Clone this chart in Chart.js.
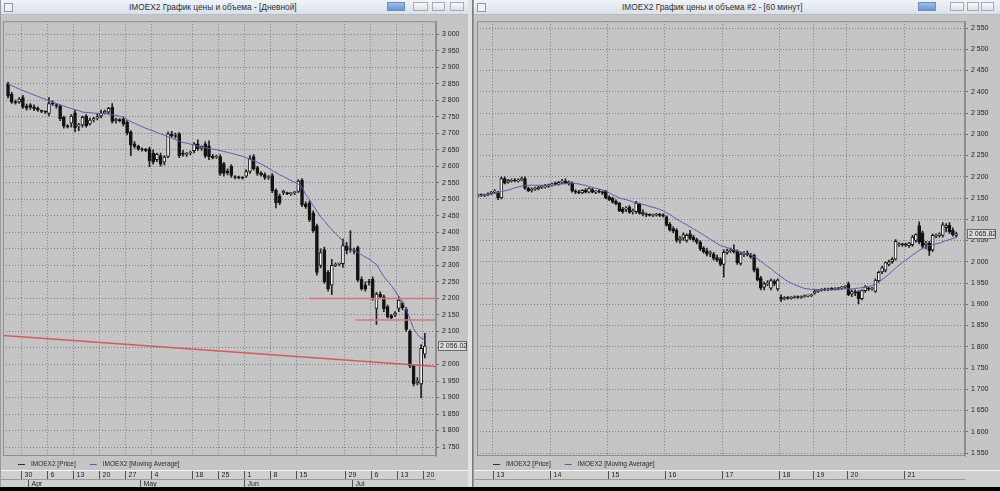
<!DOCTYPE html>
<html>
<head>
<meta charset="utf-8">
<script src="https://cdn.jsdelivr.net/npm/chart.js@4.4.1/dist/chart.umd.min.js"></script>
<style>
  html, body { margin: 0; padding: 0; width: 1000px; height: 491px; overflow: hidden; background: #101010; font-family: "Liberation Sans", Arial, sans-serif; }
  .win { position: absolute; top: 0; height: 487px; background: #c5c5c5; overflow: hidden; }
  #w1 { left: 0; width: 468px; border-left: 1px solid #9a9a9a; box-sizing: border-box; }
  #w2 { left: 473px; width: 527px; border-left: 1px solid #9a9a9a; box-sizing: border-box; }
  .gap { position: absolute; left: 468px; top: 0; width: 5px; height: 487px; background: #e2e2e2; border-right: 1px solid #7c7c7c; box-sizing: border-box; }
  .title { position: absolute; left: 0; right: 0; top: 0; height: 14px; background: linear-gradient(#f1f4f8, #d9e0e8); border-bottom: 1px solid #b4bcc6; }
  .title .txt { position: absolute; top: 0; font-size: 8.3px; line-height: 14px; color: #303030; white-space: nowrap; }
  .title .ico { position: absolute; left: 3px; top: 3px; width: 7px; height: 7px; border: 1px solid #8a97a8; background: #eef1f5; }
  .btn { position: absolute; top: 2px; height: 9px; border: 1px solid #a3adb9; background: linear-gradient(#f8f9fb, #dde2e8); box-sizing: border-box; }
  .btn.pin { background: linear-gradient(#9cbcec, #6f98d8); border-color: #6a8cc0; }
  canvas { position: absolute; left: 0; top: 14px; }
  .bottom { position: absolute; left: 0; top: 487px; width: 1000px; height: 4px; background: #000; }
</style>
</head>
<body>
<div id="w1" class="win">
  <div class="title">
    <div class="ico"></div>
    <div class="txt" style="left:128px">IMOEX2 График цены и объема - [Дневной]</div>
    <div class="btn pin" style="left:386px;width:18px"></div>
    <div class="btn" style="left:412px;width:15px"></div>
    <div class="btn" style="left:431px;width:13px"></div>
    <div class="btn" style="left:449px;width:14px"></div>
  </div>
  <canvas id="c1" width="467" height="473"></canvas>
</div>
<div class="gap"></div>
<div id="w2" class="win">
  <div class="title">
    <div class="ico"></div>
    <div class="txt" style="left:148px">IMOEX2 График цены и объема #2 - [60 минут]</div>
    <div class="btn pin" style="left:444px;width:18px"></div>
    <div class="btn" style="left:476px;width:14px"></div>
    <div class="btn" style="left:493px;width:12px"></div>
    <div class="btn" style="left:507px;width:13px"></div>
  </div>
  <canvas id="c2" width="526" height="473"></canvas>
</div>
<div class="bottom"></div>

<script>
// ---- daily chart (left) ----
const dayOpen = [
  2848, 2818, 2796, 2795, 2808, 2782, 2786, 2780, 2776, 2768, 2765, 2760, 2792, 2786, 2782, 2748, 2722, 2730, 2762, 2722,
  2725, 2752, 2728, 2740, 2746, 2752, 2762, 2764, 2778, 2738, 2740, 2743, 2734, 2704, 2668, 2660, 2652, 2650, 2653, 2640,
  2620, 2632, 2612, 2630, 2698, 2692, 2698, 2640, 2636, 2640, 2647, 2668, 2655, 2668, 2662, 2630, 2628, 2629, 2608, 2586,
  2600, 2568, 2566, 2565, 2570, 2584, 2629, 2596, 2580, 2575, 2566, 2572, 2528, 2510, 2520, 2519, 2517, 2519, 2524, 2558,
  2486, 2489, 2459, 2420, 2300, 2348, 2279, 2240, 2300, 2303, 2305, 2360, 2350, 2345, 2354, 2258, 2240, 2250, 2258, 2170,
  2213, 2205, 2175, 2148, 2150, 2170, 2185, 2166, 2100, 1995, 1945, 1941, 2031
];
const dayHigh = [
  2855, 2824, 2800, 2808, 2815, 2788, 2790, 2786, 2780, 2770, 2768, 2808, 2798, 2790, 2786, 2752, 2726, 2756, 2770, 2730,
  2752, 2756, 2746, 2748, 2760, 2770, 2770, 2778, 2790, 2746, 2744, 2748, 2738, 2708, 2675, 2664, 2656, 2654, 2658, 2650,
  2640, 2640, 2632, 2704, 2706, 2700, 2702, 2648, 2642, 2646, 2672, 2680, 2662, 2674, 2677, 2636, 2634, 2635, 2612, 2592,
  2605, 2572, 2570, 2569, 2590, 2632, 2635, 2600, 2584, 2580, 2572, 2578, 2532, 2516, 2528, 2522, 2520, 2524, 2560, 2563,
  2492, 2495, 2465, 2425, 2350, 2355, 2285, 2318, 2308, 2308, 2380, 2370, 2405, 2352, 2358, 2265, 2250, 2258, 2265, 2218,
  2220, 2210, 2180, 2152, 2160, 2205, 2190, 2172, 2105, 2000, 1960, 2060, 2094
];
const dayLow = [
  2806, 2790, 2788, 2790, 2775, 2770, 2772, 2768, 2766, 2762, 2760, 2752, 2784, 2776, 2738, 2715, 2716, 2718, 2705, 2708,
  2718, 2718, 2724, 2734, 2740, 2746, 2758, 2758, 2730, 2730, 2734, 2722, 2695, 2632, 2655, 2648, 2646, 2644, 2599, 2606,
  2614, 2600, 2604, 2626, 2688, 2685, 2626, 2630, 2630, 2634, 2640, 2648, 2648, 2626, 2620, 2622, 2624, 2572, 2570, 2574,
  2566, 2562, 2562, 2561, 2566, 2578, 2588, 2572, 2570, 2560, 2560, 2520, 2474, 2484, 2514, 2514, 2512, 2514, 2520, 2478,
  2472, 2432, 2400, 2270, 2292, 2245, 2222, 2211, 2296, 2298, 2294, 2335, 2340, 2335, 2250, 2225, 2222, 2240, 2195, 2121,
  2200, 2160, 2140, 2138, 2145, 2160, 2165, 2100, 1990, 1935, 1938, 1899, 2020
];
const dayClose = [
  2812, 2794, 2792, 2803, 2779, 2776, 2778, 2774, 2770, 2766, 2764, 2790, 2788, 2782, 2744, 2722, 2719, 2752, 2716, 2725,
  2748, 2722, 2740, 2744, 2750, 2760, 2766, 2775, 2736, 2742, 2738, 2728, 2700, 2664, 2660, 2652, 2650, 2648, 2617, 2612,
  2636, 2606, 2628, 2698, 2692, 2690, 2632, 2636, 2638, 2642, 2668, 2653, 2660, 2632, 2629, 2626, 2630, 2578, 2578, 2580,
  2572, 2566, 2565, 2564, 2584, 2623, 2593, 2578, 2574, 2566, 2568, 2525, 2489, 2490, 2524, 2517, 2519, 2521, 2555, 2483,
  2478, 2438, 2405, 2279, 2339, 2250, 2229, 2300, 2303, 2305, 2360, 2345, 2348, 2342, 2255, 2229, 2228, 2248, 2199, 2213,
  2205, 2169, 2145, 2142, 2155, 2195, 2172, 2106, 1995, 1941, 1950, 2049, 2056
];
const dayMA = [
  2849, 2844, 2839, 2834, 2829, 2825, 2820, 2816, 2811, 2807, 2803, 2798, 2794, 2790, 2786, 2782, 2778, 2775, 2771, 2768,
  2764, 2763, 2762, 2761, 2760, 2760, 2759, 2758, 2756, 2754, 2751, 2749, 2741, 2735, 2730, 2725, 2720, 2715, 2711, 2707,
  2702, 2698, 2694, 2689, 2685, 2680, 2676, 2672, 2670, 2667, 2664, 2661, 2659, 2656, 2654, 2652, 2650, 2647, 2645, 2642,
  2639, 2636, 2633, 2630, 2626, 2621, 2617, 2612, 2607, 2601, 2594, 2587, 2581, 2574, 2569, 2563, 2557, 2552, 2546, 2537,
  2514, 2499, 2481, 2464, 2447, 2435, 2421, 2408, 2396, 2386, 2372, 2360, 2352, 2346, 2339, 2332, 2325, 2319, 2311, 2303,
  2284, 2266, 2252, 2239, 2222, 2206, 2188, 2167, 2137, 2108, 2091, 2080, 2076
];
// first candle of each week / month and their labels
const dayWeekIdx = [4, 11, 18, 25, 32, 39, 50, 57, 64, 71, 78, 91, 98, 105, 112];
const dayWeekText = ['30', '6', '13', '20', '27', '4', '18', '25', '1', '8', '15', '29', '6', '13', '20'];
const dayMonthIdx = [6, 36, 64, 93];
const dayMonthText = ['Apr', 'May', 'Jun', 'Jul'];
// drawn levels on the daily chart
const dayLevels = [2200, 2135];
const dayLevelFrom = [81, 93.5];
const dayTrendX = [-1.35, 115];
const dayTrendY = [2088, 1994];

// ---- hourly chart (right) ----
const hourOpen = [
  2155, 2157, 2156, 2157, 2160, 2164, 2162, 2150, 2196, 2187, 2190, 2192, 2190, 2193, 2196, 2173, 2168, 2170, 2172, 2175,
  2176, 2178, 2181, 2183, 2182, 2187, 2189, 2185, 2185, 2166, 2164, 2162, 2168, 2164, 2170, 2164, 2166, 2164, 2166, 2152,
  2150, 2142, 2138, 2124, 2124, 2128, 2118, 2118, 2136, 2116, 2112, 2110, 2109, 2110, 2111, 2109, 2106, 2088, 2078, 2074,
  2052, 2056, 2050, 2066, 2058, 2052, 2046, 2032, 2026, 2020, 2018, 2010, 2006, 1994, 2022, 2026, 2028, 2024, 1996, 2018,
  2020, 2016, 2015, 1983, 1962, 1940, 1948, 1938, 1954, 1936, 1917, 1912, 1915, 1914, 1916, 1917, 1916, 1918, 1919, 1920,
  1926, 1930, 1933, 1935, 1934, 1936, 1935, 1937, 1938, 1940, 1948, 1924, 1930, 1929, 1913, 1932, 1936, 1936, 1930, 1955,
  1976, 1980, 1994, 2000, 2006, 2040, 2041, 2040, 2038, 2040, 2050, 2085, 2068, 2040, 2044, 2028, 2060, 2062, 2062, 2080,
  2086, 2074, 2062
];
const hourHigh = [
  2160, 2160, 2159, 2162, 2166, 2170, 2166, 2200, 2200, 2194, 2195, 2196, 2195, 2199, 2200, 2176, 2174, 2176, 2178, 2180,
  2182, 2183, 2186, 2188, 2189, 2194, 2195, 2190, 2188, 2170, 2168, 2170, 2172, 2174, 2173, 2168, 2170, 2167, 2168, 2156,
  2152, 2146, 2140, 2128, 2130, 2132, 2124, 2142, 2138, 2122, 2115, 2113, 2113, 2114, 2114, 2113, 2108, 2092, 2082, 2078,
  2060, 2068, 2066, 2074, 2062, 2056, 2050, 2036, 2032, 2026, 2022, 2016, 2010, 2028, 2030, 2032, 2040, 2028, 2022, 2024,
  2026, 2020, 2018, 1986, 1966, 1952, 1956, 1960, 1958, 1960, 1922, 1918, 1918, 1918, 1920, 1920, 1920, 1922, 1922, 1924,
  1934, 1935, 1937, 1938, 1938, 1939, 1939, 1940, 1942, 1944, 1952, 1934, 1934, 1932, 1934, 1944, 1940, 1940, 1960, 1978,
  1990, 2000, 2004, 2010, 2052, 2045, 2044, 2044, 2046, 2062, 2066, 2094, 2072, 2048, 2048, 2066, 2066, 2068, 2092, 2090,
  2092, 2080, 2070
];
const hourLow = [
  2152, 2154, 2153, 2155, 2158, 2160, 2146, 2148, 2183, 2185, 2187, 2188, 2187, 2190, 2170, 2165, 2164, 2168, 2169, 2172,
  2173, 2175, 2178, 2180, 2180, 2184, 2183, 2180, 2164, 2160, 2160, 2160, 2162, 2162, 2162, 2160, 2162, 2158, 2148, 2144,
  2138, 2134, 2118, 2114, 2118, 2114, 2112, 2114, 2112, 2108, 2106, 2107, 2106, 2107, 2106, 2105, 2084, 2072, 2068, 2046,
  2044, 2050, 2046, 2052, 2048, 2042, 2026, 2020, 2014, 2012, 2004, 2000, 1990, 1964, 2018, 2022, 2020, 1994, 1992, 2012,
  2014, 2008, 1976, 1955, 1934, 1934, 1944, 1934, 1944, 1932, 1906, 1910, 1912, 1912, 1914, 1914, 1914, 1916, 1917, 1918,
  1924, 1928, 1931, 1932, 1932, 1933, 1933, 1934, 1935, 1937, 1920, 1918, 1920, 1901, 1910, 1928, 1932, 1933, 1928, 1952,
  1972, 1976, 1990, 1996, 2004, 2036, 2036, 2036, 2034, 2036, 2046, 2042, 2032, 2030, 2015, 2024, 2056, 2058, 2058, 2070,
  2066, 2060, 2058
];
const hourClose = [
  2157, 2156, 2157, 2160, 2164, 2166, 2150, 2196, 2185, 2192, 2192, 2190, 2193, 2196, 2173, 2167, 2170, 2173, 2175, 2176,
  2179, 2181, 2183, 2182, 2187, 2190, 2185, 2188, 2166, 2164, 2162, 2168, 2164, 2172, 2164, 2166, 2164, 2162, 2150, 2146,
  2140, 2136, 2120, 2118, 2126, 2116, 2120, 2138, 2114, 2112, 2110, 2109, 2110, 2111, 2109, 2108, 2086, 2075, 2072, 2050,
  2056, 2064, 2062, 2055, 2052, 2046, 2030, 2024, 2018, 2022, 2008, 2004, 1994, 2022, 2026, 2028, 2024, 1998, 2018, 2020,
  2016, 2012, 1980, 1958, 1938, 1948, 1950, 1956, 1948, 1957, 1912, 1915, 1914, 1916, 1917, 1916, 1918, 1919, 1920, 1922,
  1931, 1933, 1935, 1934, 1936, 1935, 1937, 1938, 1940, 1941, 1922, 1930, 1926, 1913, 1932, 1941, 1936, 1937, 1957, 1975,
  1986, 1998, 2000, 2006, 2048, 2041, 2040, 2039, 2044, 2058, 2064, 2046, 2036, 2044, 2026, 2062, 2062, 2066, 2087, 2085,
  2070, 2064, 2066
];
const hourMA = [
  2155, 2156, 2157, 2158, 2159, 2161, 2163, 2165, 2167, 2169, 2171, 2174, 2176, 2178, 2180, 2180, 2180, 2180, 2180, 2180,
  2180, 2180, 2180, 2181, 2182, 2183, 2184, 2185, 2185, 2184, 2183, 2181, 2180, 2177, 2175, 2173, 2171, 2169, 2166, 2162,
  2158, 2154, 2150, 2148, 2146, 2144, 2141, 2139, 2137, 2135, 2133, 2130, 2128, 2126, 2123, 2120, 2115, 2111, 2106, 2101,
  2096, 2091, 2087, 2082, 2077, 2073, 2068, 2063, 2058, 2053, 2048, 2043, 2038, 2036, 2033, 2031, 2028, 2026, 2023, 2021,
  2018, 2016, 2012, 2007, 2001, 1995, 1989, 1984, 1977, 1971, 1965, 1959, 1954, 1950, 1946, 1943, 1940, 1937, 1936, 1935,
  1935, 1934, 1934, 1934, 1935, 1935, 1935, 1936, 1936, 1936, 1936, 1936, 1937, 1938, 1939, 1941, 1942, 1944, 1947, 1952,
  1958, 1964, 1971, 1978, 1985, 1992, 1998, 2004, 2009, 2016, 2021, 2027, 2031, 2035, 2038, 2040, 2042, 2044, 2047, 2050,
  2052, 2055, 2057
];
const hourDayIdx = [5, 22, 39, 56, 73, 90, 100, 110, 127];
const hourDayText = ['13', '14', '15', '16', '17', '18', '19', '20', '21'];

const fmt = v => String(v).replace(/\B(?=(\d{3})+(?!\d))/g, ' ');

// QUIK-like frame, legend, date strip and last price box
const quikPlugin = {
  id: 'quik',
  afterDraw(chart, args, o) {
    const { ctx, chartArea: a, scales: { x, y } } = chart;
    const W = chart.width, H = chart.height;
    ctx.save();
    ctx.strokeStyle = '#8e8e8e';
    ctx.lineWidth = 1;
    ctx.strokeRect(a.left + 0.5, a.top + 0.5, a.right - a.left - 1, a.bottom - a.top - 1);

    // legend
    const ly = H - 22.5;
    ctx.font = '6.5px "Liberation Sans", Arial, sans-serif';
    ctx.textBaseline = 'middle';
    ctx.textAlign = 'left';
    const items = [['IMOEX2 [Price]', '#303030'], ['IMOEX2 [Moving Average]', '#5c5cb8']];
    let lx = o.legendX;
    items.forEach(([t, c]) => {
      ctx.strokeStyle = c;
      ctx.beginPath(); ctx.moveTo(lx, ly); ctx.lineTo(lx + 7, ly); ctx.stroke();
      ctx.fillStyle = '#2a2a2a';
      ctx.fillText(t, lx + 13, ly);
      lx += 13 + ctx.measureText(t).width + 14;
    });

    // date strip
    const top = H - 17;
    ctx.font = '7px "Liberation Sans", Arial, sans-serif';
    ctx.fillStyle = '#cfcfcf';
    ctx.fillRect(0, top, W, 17);
    ctx.fillStyle = '#f4f4f4';
    ctx.fillRect(0, top, W, 1);
    ctx.fillStyle = '#9a9a9a';
    ctx.fillRect(0, top + 9, a.right, 1);
    ctx.strokeStyle = '#505050';
    ctx.fillStyle = '#1e1e1e';
    o.ticks.forEach((idx, k) => {
      const px = Math.round(x.getPixelForValue(idx - 0.5)) + 0.5;
      ctx.beginPath(); ctx.moveTo(px, top + 1); ctx.lineTo(px, top + 9); ctx.stroke();
      ctx.fillText(o.tickText[k], px + 3, top + 5.5);
    });
    (o.months || []).forEach((idx, k) => {
      const px = Math.round(x.getPixelForValue(idx - 0.5)) + 0.5;
      ctx.beginPath(); ctx.moveTo(px, top + 10); ctx.lineTo(px, top + 17); ctx.stroke();
      ctx.fillText(o.monthText[k], px + 3, top + 14.5);
    });

    // last price box on the axis
    const py = Math.round(y.getPixelForValue(o.last));
    ctx.fillStyle = '#dadada';
    ctx.fillRect(a.right + 2, py - 5, 29, 10);
    ctx.strokeStyle = '#6a6a6a';
    ctx.strokeRect(a.right + 2.5, py - 4.5, 28, 9);
    ctx.fillStyle = '#1e1e1e';
    ctx.fillText(o.lastText, a.right + 4, py + 0.5);
    ctx.restore();
  }
};

function candleSets(open, high, low, close, ma, bodyW) {
  return [
    {
      type: 'bar', label: 'wick', order: 4, grouped: false, barThickness: 1,
      data: open.map((v, i) => ({ x: i, y: [low[i], high[i]] })),
      backgroundColor: '#222', borderWidth: 0
    },
    {
      type: 'bar', label: 'IMOEX2 [Price]', order: 3, grouped: false, barThickness: bodyW, minBarLength: 1,
      data: open.map((v, i) => ({ x: i, y: [Math.min(v, close[i]), Math.max(v, close[i])] })),
      backgroundColor: open.map((v, i) => close[i] > v ? '#ffffff' : '#141414'),
      borderColor: '#141414', borderWidth: 1, borderSkipped: false
    },
    {
      type: 'line', label: 'IMOEX2 [Moving Average]', order: 2,
      data: ma.map((v, i) => ({ x: i, y: v })),
      borderColor: '#5a5ab6', borderWidth: 1, pointRadius: 0, tension: 0
    }
  ];
}

function axes(xMin, xMax, yMin, yMax, ticks, axisW) {
  return {
    x: {
      type: 'linear', min: xMin, max: xMax, offset: false,
      afterBuildTicks: s => { s.ticks = ticks.map(i => ({ value: i - 0.5 })); },
      ticks: { display: false },
      grid: { color: '#808080', drawTicks: false, offset: false },
      border: { display: false, dash: [1, 2] }
    },
    y: {
      type: 'linear', position: 'right', min: yMin, max: yMax,
      afterFit: s => { s.width = axisW; },
      ticks: {
        stepSize: 50, includeBounds: false, padding: 3, color: '#222',
        font: { size: 7, family: '"Liberation Sans", Arial, sans-serif' },
        callback: v => fmt(v)
      },
      grid: { color: '#808080', tickLength: 3, tickColor: '#6a6a6a', tickBorderDash: [] },
      border: { display: true, color: '#8e8e8e', dash: [1, 2] }
    }
  };
}

const common = {
  responsive: false, animation: false, devicePixelRatio: 1,
  plugins: { legend: { display: false }, tooltip: { enabled: false } }
};

// left: daily
const leftSets = candleSets(dayOpen, dayHigh, dayLow, dayClose, dayMA, 3);
dayLevels.forEach((lv, k) => leftSets.push({
  type: 'line', label: 'level', order: 1,
  data: [{ x: dayLevelFrom[k], y: lv }, { x: dayTrendX[1], y: lv }],
  borderColor: '#e07474', borderWidth: 1.5, pointRadius: 0
}));
leftSets.push({
  type: 'line', label: 'trend', order: 1,
  data: dayTrendX.map((v, k) => ({ x: v, y: dayTrendY[k] })),
  borderColor: '#d65a5a', borderWidth: 1.5, pointRadius: 0
});

new Chart(document.getElementById('c1'), {
  type: 'bar',
  data: { datasets: leftSets },
  options: {
    ...common,
    layout: { padding: { left: 2, top: 2, right: 0, bottom: 31 } },
    scales: axes(-1.35, 115, 1723, 3039, dayWeekIdx, 32),
    plugins: {
      ...common.plugins,
      quik: {
        legendX: 17, ticks: dayWeekIdx, tickText: dayWeekText,
        months: dayMonthIdx, monthText: dayMonthText,
        last: dayClose[dayClose.length - 1], lastText: '2 056.02'
      }
    }
  },
  plugins: [quikPlugin]
});

// right: 60 minutes
new Chart(document.getElementById('c2'), {
  type: 'bar',
  data: { datasets: candleSets(hourOpen, hourHigh, hourLow, hourClose, hourMA, 3) },
  options: {
    ...common,
    layout: { padding: { left: 3, top: 2, right: 0, bottom: 31 } },
    scales: axes(-0.24, 144.6, 1543, 2566, hourDayIdx, 35),
    plugins: {
      ...common.plugins,
      quik: {
        legendX: 19, ticks: hourDayIdx, tickText: hourDayText,
        months: [], monthText: [],
        last: 2065.82, lastText: '2 065.82'
      }
    }
  },
  plugins: [quikPlugin]
});
</script>
</body>
</html>
